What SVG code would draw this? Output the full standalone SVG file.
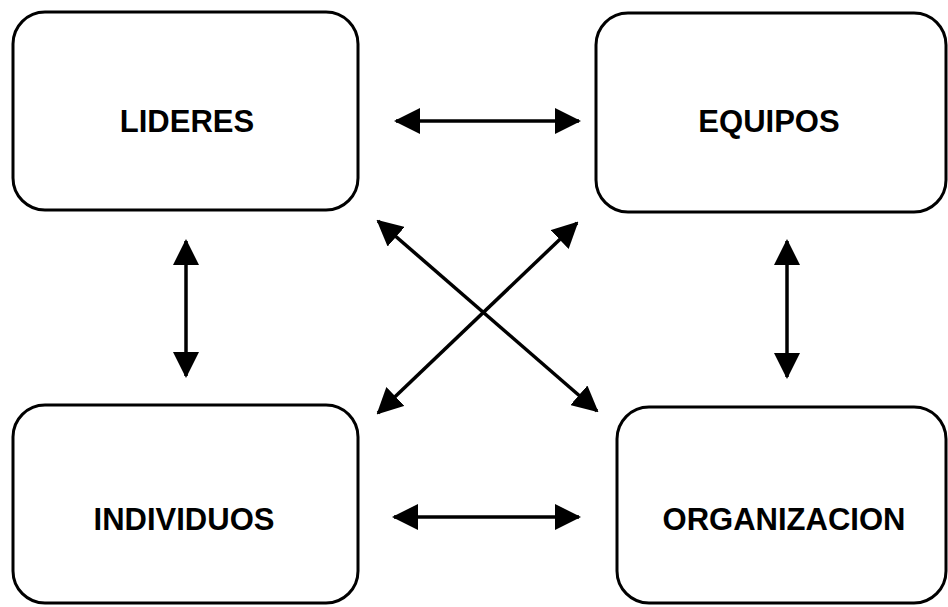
<svg xmlns="http://www.w3.org/2000/svg" width="948" height="607" viewBox="0 0 948 607">
<style>
.box{fill:#fff;stroke:#000;stroke-width:3}
.lbl{font-family:"Liberation Sans",Arial,sans-serif;font-weight:bold;font-size:31px;fill:#000;text-anchor:middle}
.con{stroke:#000;stroke-width:3.5;fill:none;marker-start:url(#ah);marker-end:url(#ah)}
</style>
<defs>
<marker id="ah" markerUnits="userSpaceOnUse" markerWidth="26" markerHeight="26" viewBox="0 0 26 26" refX="24" refY="13" orient="auto-start-reverse">
<path d="M0,0 L26,13 L0,26 Z" fill="#000"/>
</marker>
</defs>
<rect width="948" height="607" fill="#fff"/>
<g id="lideres"><rect class="box" x="13" y="12" width="345" height="198" rx="32"/><text class="lbl" x="187" y="132">LIDERES</text></g>
<g id="equipos"><rect class="box" x="596" y="13" width="350" height="199" rx="32"/><text class="lbl" x="769" y="132">EQUIPOS</text></g>
<g id="individuos"><rect class="box" x="13" y="405" width="345" height="198" rx="32"/><text class="lbl" x="184" y="530">INDIVIDUOS</text></g>
<g id="organizacion"><rect class="box" x="617" y="407" width="329" height="196" rx="32"/><text class="lbl" x="784" y="530">ORGANIZACION</text></g>
<g id="connectors">
<line class="con" x1="396" y1="121" x2="579" y2="121"/>
<line class="con" x1="394" y1="517" x2="579" y2="517"/>
<line class="con" x1="186" y1="241" x2="186" y2="376"/>
<line class="con" x1="787" y1="241" x2="787" y2="377"/>
<line class="con" x1="378" y1="221" x2="597" y2="411"/>
<line class="con" x1="577" y1="223" x2="378" y2="413"/>
</g>
</svg>
